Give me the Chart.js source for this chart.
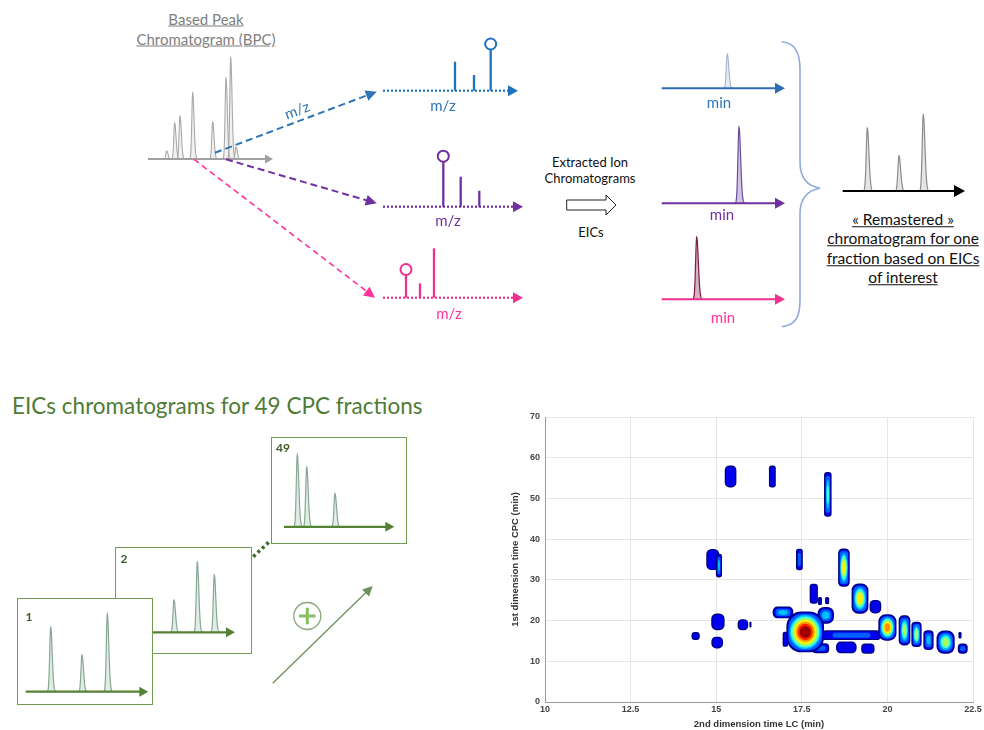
<!DOCTYPE html>
<html><head><meta charset="utf-8">
<script src="https://cdn.jsdelivr.net/npm/chart.js@4.4.1/dist/chart.umd.min.js"></script>
<style>
html,body{margin:0;padding:0;background:#fff;}
#page{position:relative;width:984px;height:730px;overflow:hidden;font-family:Lato,"Open Sans",sans-serif;background:#fff;}
.t{position:absolute;transform:translate(-50%,-50%);white-space:nowrap;line-height:1;}
.tl{position:absolute;transform:translate(0,-50%);white-space:nowrap;line-height:1;}
canvas{position:absolute;}
.box{position:absolute;border:1.3px solid #6f9b52;background:#fff;box-sizing:border-box;}
svg{position:absolute;left:0;top:0;}
</style></head><body><div id="page">

<div class="t" style="left:206px;top:19px;font-size:15px;color:#7f7f7f;text-decoration:underline;">Based Peak</div>
<div class="t" style="left:206px;top:39px;font-size:15px;color:#7f7f7f;text-decoration:underline;">Chromatogram (BPC)</div>

<canvas id="bpc" width="145" height="122" style="left:140px;top:45px"></canvas>
<canvas id="msBlue" width="155" height="80" style="left:375px;top:30px"></canvas>
<canvas id="msPurple" width="155" height="80" style="left:375px;top:140px"></canvas>
<canvas id="msPink" width="155" height="70" style="left:375px;top:240px"></canvas>
<canvas id="eicBlue" width="140" height="55" style="left:655px;top:45px"></canvas>
<canvas id="eicPurple" width="140" height="95" style="left:655px;top:120px"></canvas>
<canvas id="eicPink" width="140" height="80" style="left:655px;top:230px"></canvas>
<canvas id="rem" width="140" height="95" style="left:835px;top:105px"></canvas>

<div class="t" style="left:297px;top:110px;font-size:15px;color:#2e75b6;transform:translate(-50%,-50%) rotate(-20.7deg);">m/z</div>
<div class="t" style="left:443px;top:105px;font-size:15px;color:#2e75b6;">m/z</div>
<div class="t" style="left:448px;top:220px;font-size:15px;color:#7030a0;">m/z</div>
<div class="t" style="left:449px;top:313px;font-size:15px;color:#ff3399;">m/z</div>
<div class="t" style="left:719px;top:102px;font-size:15px;color:#2e75b6;">min</div>
<div class="t" style="left:722px;top:214px;font-size:15px;color:#7030a0;">min</div>
<div class="t" style="left:723px;top:317px;font-size:15px;color:#ff3399;">min</div>

<div class="t" style="left:590px;top:162px;font-size:13px;color:#111;">Extracted Ion</div>
<div class="t" style="left:590px;top:178px;font-size:13px;color:#111;">Chromatograms</div>
<div class="t" style="left:591px;top:232px;font-size:13px;color:#111;">EICs</div>

<div class="t" style="left:903px;top:220px;font-size:15.5px;color:#111;text-decoration:underline;">« Remastered »</div>
<div class="t" style="left:903px;top:239px;font-size:15.5px;color:#111;text-decoration:underline;">chromatogram for one</div>
<div class="t" style="left:903px;top:259px;font-size:15.5px;color:#111;text-decoration:underline;">fraction based on EICs</div>
<div class="t" style="left:903px;top:278px;font-size:15.5px;color:#111;text-decoration:underline;">of interest</div>

<div class="tl" style="left:12px;top:406px;font-size:22.5px;color:#4f7c34;">EICs chromatograms for 49 CPC fractions</div>

<div class="box" style="left:271px;top:437px;width:136px;height:107px;z-index:1"></div>
<canvas id="frac49" width="133" height="104" style="left:272px;top:438px;z-index:2"></canvas>
<div class="box" style="left:115px;top:547px;width:137px;height:107px;z-index:3"></div>
<canvas id="frac2" width="134" height="104" style="left:116px;top:548px;z-index:4"></canvas>
<div class="box" style="left:17px;top:598px;width:136px;height:107px;z-index:5"></div>
<canvas id="frac1" width="133" height="104" style="left:18px;top:600px;z-index:6"></canvas>
<div class="t" style="left:29px;top:617px;font-size:12px;font-weight:bold;color:#3d5c2a;z-index:7">1</div>
<div class="t" style="left:124px;top:559px;font-size:12px;font-weight:bold;color:#3d5c2a;z-index:7">2</div>
<div class="t" style="left:283px;top:448px;font-size:12px;font-weight:bold;color:#3d5c2a;z-index:7">49</div>

<canvas id="heat" width="474" height="325" style="left:510px;top:405px"></canvas>

<svg id="deco" width="984" height="730" style="z-index:10;pointer-events:none"></svg>
</div>
<script>
// ---------- data ----------
// Base peak chromatogram (time, relative intensity)
const bpcTimes = [2.67, 3.47, 4.0, 5.27, 7.27, 8.6, 9.07, 9.6];
const bpcIntensity = [8, 36, 43, 66, 37, 81, 101, 12];
// Mass spectra (m/z position, intensity)
const msBlueMz = [8.0, 9.9, 11.57];
const msBlueInt = [29, 15.7, 41.2];
const msPurpleMz = [6.83, 8.57, 10.43];
const msPurpleInt = [45, 30, 16];
const msPinkMz = [3.1, 4.5, 5.9];
const msPinkInt = [22.7, 14.4, 49.4];
// Extracted ion chromatograms
const eicBlueTime = [7.23];
const eicBlueInt = [34.3];
const eicPurpleTime = [8.4];
const eicPurpleInt = [76];
const eicPinkTime = [4.17];
const eicPinkInt = [62];
// Remastered chromatogram
const remTimes = [3.23, 6.4, 8.83];
const remInt = [62.7, 35.3, 76];
// Fractions
const frac1Times = [3.27, 6.4, 8.93];
const frac1Int = [64.4, 36.7, 77.7];
const frac2Times = [5.8, 8.13, 9.83];
const frac2Int = [32.3, 70, 57.3];
const frac49Times = [2.53, 3.47, 6.3];
const frac49Int = [72.3, 59.6, 33.3];
// 2D plot
const lcTicks = [10, 12.5, 15, 17.5, 20, 22.5];
const cpcTicks = [0, 10, 20, 30, 40, 50, 60, 70];
const blobLC     = [15.42,16.64,18.26,14.90,15.08,17.43,18.73,17.85,18.03,18.24,19.20,19.65,16.95,18.20,17.60,18.95,20.00,20.50,20.85,21.20,21.70,22.20,22.12,19.43,18.80,17.02,15.05,15.03,14.40,15.78,16.00,18.05];
const blobCPC    = [55.4, 55.4, 51.0, 35.0, 33.5, 35.0, 33.0, 26.6, 24.8, 24.9, 25.4, 23.4, 22.0, 21.3, 17.2, 16.4, 18.3, 17.6, 16.6, 15.2, 14.7, 13.1, 16.4, 13.1, 13.4, 15.4, 19.7, 14.6, 16.2, 19.0, 19.0, 13.2];
const blobWidth  = [0.34, 0.20, 0.22, 0.38, 0.18, 0.20, 0.34, 0.24, 0.12, 0.12, 0.49, 0.34, 0.60, 0.48, 1.10, 1.70, 0.53, 0.34, 0.30, 0.30, 0.53, 0.29, 0.09, 0.39, 0.60, 0.16, 0.39, 0.34, 0.24, 0.31, 0.06, 0.50];
const blobHeight = [5.4, 5.4, 11.0, 5.2, 5.8, 5.3, 9.4, 4.9, 2.0, 1.8, 7.4, 3.3, 2.9, 4.1, 10.0, 2.4, 6.5, 7.4, 6.2, 4.9, 5.7, 2.5, 1.6, 2.5, 2.9, 3.7, 4.1, 2.9, 2.0, 2.7, 1.4, 2.4];
const blobLevel  = [2, 2, 5, 2, 4, 3, 7, 2, 2, 2, 7, 2, 4, 4, 10, 3, 8, 6, 6, 4, 6, 3, 2, 2, 2, 2, 2, 2, 2, 2, 2, 3];

// ---------- mini chromatogram / spectrum plugin ----------
const peakPlugin = {
  id: 'peaks',
  afterDatasetsDraw(chart) {
    const s = chart.options.plugins.peaks;
    const ctx = chart.ctx, xs = chart.scales.x, ys = chart.scales.y;
    const y0 = ys.getPixelForValue(0);
    const pts = chart.data.datasets[0].data;
    ctx.save();
    pts.forEach((p, i) => {
      const px = xs.getPixelForValue(p.x), top = ys.getPixelForValue(p.y);
      if (s.kind === 'stick') {
        ctx.strokeStyle = s.color; ctx.lineWidth = 2.3;
        ctx.beginPath(); ctx.moveTo(px, y0); ctx.lineTo(px, top); ctx.stroke();
        if (s.circle === i) {
          ctx.lineWidth = 2;
          ctx.beginPath(); ctx.arc(px, top - s.r, s.r, 0, 2 * Math.PI); ctx.stroke();
        }
      } else {
        const hgt = y0 - top, sig = s.sigma || 1.2;
        ctx.beginPath();
        const n = 60;
        for (let k = 0; k <= n; k++) {
          const d = -4 * sig + (k / n) * 10 * sig;
          const sg = d < 0 ? sig : sig * 1.5;
          const yy = y0 - hgt * Math.exp(-0.5 * (d / sg) * (d / sg));
          if (k === 0) ctx.moveTo(px + d, yy); else ctx.lineTo(px + d, yy);
        }
        if (s.fill) { ctx.fillStyle = s.fill; ctx.fill(); }
        ctx.strokeStyle = s.color; ctx.lineWidth = s.lw || 1.2; ctx.stroke();
      }
    });
    const xa = xs.getPixelForValue(s.axisFrom), xb = xs.getPixelForValue(s.axisTo);
    ctx.strokeStyle = s.axisColor; ctx.lineWidth = s.axisWidth;
    ctx.setLineDash(s.dash || []);
    ctx.beginPath(); ctx.moveTo(xa, y0); ctx.lineTo(xb - s.head * 0.7, y0); ctx.stroke();
    ctx.setLineDash([]);
    ctx.fillStyle = s.axisColor;
    ctx.beginPath(); ctx.moveTo(xb, y0); ctx.lineTo(xb - s.head, y0 - s.head * 0.55); ctx.lineTo(xb - s.head, y0 + s.head * 0.55); ctx.closePath(); ctx.fill();
    ctx.restore();
  }
};

function mini(id, xs, ys, range, style) {
  return new Chart(document.getElementById(id), {
    type: 'scatter',
    data: { datasets: [{ data: xs.map((v, i) => ({ x: v, y: ys[i] })), pointRadius: 0, showLine: false }] },
    options: {
      responsive: false, animation: false, events: [],
      layout: { padding: 0 },
      plugins: { legend: { display: false }, tooltip: { enabled: false }, peaks: style },
      scales: {
        x: { type: 'linear', display: false, min: range[0], max: range[1] },
        y: { type: 'linear', display: false, min: range[2], max: range[3] }
      }
    },
    plugins: [peakPlugin]
  });
}

mini('bpc', bpcTimes, bpcIntensity, [0, 14.5, -8, 114], { kind: 'peak', color: '#a9a9a9', fill: 'rgba(210,210,210,0.3)', sigma: 0.9, lw: 1.1, axisFrom: 0.8, axisTo: 13.3, axisColor: '#a0a0a0', axisWidth: 2, head: 8 });
mini('msBlue', msBlueMz, msBlueInt, [0, 15.5, -19.3, 60.7], { kind: 'stick', color: '#1f72bd', circle: 2, r: 5.5, axisFrom: 0.8, axisTo: 14.3, axisColor: '#1f72bd', axisWidth: 2.2, dash: [2, 2], head: 10 });
mini('msPurple', msPurpleMz, msPurpleInt, [0, 15.5, -13.3, 66.7], { kind: 'stick', color: '#7030a0', circle: 0, r: 5.5, axisFrom: 0.8, axisTo: 14.8, axisColor: '#7030a0', axisWidth: 2.2, dash: [2, 2], head: 10 });
mini('msPink', msPinkMz, msPinkInt, [0, 15.5, -12.3, 57.7], { kind: 'stick', color: '#f0308f', circle: 0, r: 5.5, axisFrom: 0.8, axisTo: 14.8, axisColor: '#f0308f', axisWidth: 2.2, dash: [2, 2], head: 10 });
mini('eicBlue', eicBlueTime, eicBlueInt, [0, 14, -11.7, 43.3], { kind: 'peak', color: '#a8b6cc', fill: 'rgba(200,210,225,0.4)', sigma: 1.0, axisFrom: 0.67, axisTo: 13.0, axisColor: '#2e6db4', axisWidth: 2, head: 10 });
mini('eicPurple', eicPurpleTime, eicPurpleInt, [0, 14, -11.7, 83.3], { kind: 'peak', color: '#6a4f9c', fill: 'rgba(160,140,200,0.5)', sigma: 1.1, axisFrom: 0.67, axisTo: 13.0, axisColor: '#7030a0', axisWidth: 2, head: 10 });
mini('eicPink', eicPinkTime, eicPinkInt, [0, 14, -10.7, 69.3], { kind: 'peak', color: '#7d1d48', fill: 'rgba(150,60,100,0.4)', sigma: 1.1, axisFrom: 0.67, axisTo: 13.0, axisColor: '#f0308f', axisWidth: 2, head: 10 });
mini('rem', remTimes, remInt, [0, 14, -9, 86], { kind: 'peak', color: '#8c8c8c', fill: 'rgba(190,190,190,0.4)', sigma: 1.1, axisFrom: 0.77, axisTo: 13.0, axisColor: '#000', axisWidth: 2.2, head: 11 });
const fracStyle = (from, to) => ({ kind: 'peak', color: '#86a894', fill: 'rgba(170,200,180,0.35)', sigma: 1.0, axisFrom: from, axisTo: to, axisColor: '#548235', axisWidth: 2.2, head: 9 });
mini('frac1', frac1Times, frac1Int, [0, 13.3, -12.3, 91.7], fracStyle(0.77, 13.03));
mini('frac2', frac2Times, frac2Int, [0, 13.4, -19.7, 84.3], fracStyle(3.0, 11.9));
mini('frac49', frac49Times, frac49Int, [0, 13.3, -15.2, 88.8], fracStyle(1.2, 12.23));

// ---------- 2D contour plot ----------
const jet = ['#00007a', '#0000ee', '#0060ff', '#00c0ff', '#40ffe0', '#a8ff5a', '#fff000', '#ff9000', '#ff2000', '#a00000'];
const blobPlugin = {
  id: 'blobs',
  beforeDatasetsDraw(chart) {
    const data = chart.data.datasets[0].data;
    const xs = chart.scales.x, ys = chart.scales.y, ctx = chart.ctx, a = chart.chartArea;
    ctx.save();
    ctx.beginPath(); ctx.rect(a.left, a.top, a.right - a.left, a.bottom - a.top); ctx.clip();
    const order = data.map((d, i) => i).sort((i, j) => data[i].level - data[j].level);
    order.forEach(i => {
      const d = data[i];
      const cx = xs.getPixelForValue(d.x), cy = ys.getPixelForValue(d.y);
      const W = Math.abs(xs.getPixelForValue(d.x + d.w / 2) - xs.getPixelForValue(d.x - d.w / 2));
      const H = Math.abs(ys.getPixelForValue(d.y + d.h / 2) - ys.getPixelForValue(d.y - d.h / 2));
      const n = d.level;
      for (let k = 0; k < n; k++) {
        let w, h;
        if (k === 0) { w = W; h = H; }
        else {
          const f = k < 2 ? 1 : 1 - Math.pow((k - 1) / Math.max(1, n - 1), 1.3) * 0.8;
          w = (W - 2.4) * f;
          h = (H - 2.4) * f;
        }
        if (w <= 0.5 || h <= 0.5) break;
        ctx.fillStyle = jet[k];
        ctx.beginPath();
        if (k >= 3) ctx.ellipse(cx, cy, w / 2, h / 2, 0, 0, 2 * Math.PI);
        else ctx.roundRect(cx - w / 2, cy - h / 2, w, h, Math.min(w, h) * 0.4);
        ctx.fill();
      }
    });
    ctx.restore();
  }
};
const tickFont = { family: '"Liberation Sans", Arial, sans-serif', size: 9, weight: 'bold' };
const titleFont = { family: '"Liberation Sans", Arial, sans-serif', size: 9.5, weight: 'bold' };
new Chart(document.getElementById('heat'), {
  type: 'scatter',
  data: { datasets: [{ data: blobLC.map((v, i) => ({ x: v, y: blobCPC[i], w: blobWidth[i], h: blobHeight[i], level: blobLevel[i] })), pointRadius: 0 }] },
  options: {
    responsive: false, animation: false, events: [],
    layout: { padding: { top: 12, right: 11, left: 0, bottom: 0 } },
    plugins: { legend: { display: false }, tooltip: { enabled: false } },
    scales: {
      x: {
        type: 'linear', min: 10, max: 22.5,
        afterBuildTicks: s => { s.ticks = lcTicks.map(v => ({ value: v })); },
        afterFit: s => { s.height = 28; },
        grid: { color: '#e6e6e6', drawTicks: false },
        border: { color: '#9a9a9a' },
        ticks: { font: tickFont, color: '#454545', padding: 2, maxRotation: 0 },
        title: { display: true, text: '2nd dimension time LC (min)', font: titleFont, color: '#333', padding: 0 }
      },
      y: {
        type: 'linear', min: 0, max: 70,
        afterBuildTicks: s => { s.ticks = cpcTicks.map(v => ({ value: v })); },
        afterFit: s => { s.width = 35; },
        grid: { color: '#e6e6e6', drawTicks: false },
        border: { color: '#9a9a9a' },
        ticks: { font: tickFont, color: '#454545', padding: 5 },
        title: { display: true, text: '1st dimension time CPC (min)', font: titleFont, color: '#333', padding: 0 }
      }
    }
  },
  plugins: [blobPlugin]
});

// ---------- decorative arrows / brace ----------
const NS = 'http://www.w3.org/2000/svg';
const svg = document.getElementById('deco');
function el(tag, attrs) { const e = document.createElementNS(NS, tag); for (const k in attrs) e.setAttribute(k, attrs[k]); svg.appendChild(e); return e; }
function arrow(x1, y1, x2, y2, color, width, dash, head) {
  const ang = Math.atan2(y2 - y1, x2 - x1), c = Math.cos(ang), s = Math.sin(ang);
  const bx = x2 - head * c, by = y2 - head * s;
  el('line', { x1, y1, x2: bx + c * 2, y2: by + s * 2, stroke: color, 'stroke-width': width, 'stroke-dasharray': dash || 'none' });
  const hw = head * 0.5;
  el('polygon', { points: `${x2},${y2} ${bx - s * hw},${by + c * hw} ${bx + s * hw},${by - c * hw}`, fill: color });
}
arrow(215, 152.7, 376.7, 91.7, '#2e75b6', 2, '7 4', 11);
arrow(226, 159.3, 376.7, 203.3, '#7030a0', 2, '7 4', 11);
arrow(194, 159.3, 375, 297.7, '#ff3399', 1.6, '6 4', 11);
el('polygon', { points: '566.7,200 606,200 606,195 616,205 606,215 606,210 566.7,210', fill: '#fff', stroke: '#222', 'stroke-width': 1 });
el('path', { d: 'M781.7,41.7 C795,43 800,52 800,70 L800,162 C800,178 807,186 820,188.3 C807,190.6 800,198 800,214 L800,300 C800,318 795,325 781.7,326.7', fill: 'none', stroke: '#8faadc', 'stroke-width': 1.6 });
el('line', { x1: 253.3, y1: 556.7, x2: 269.3, y2: 541.7, stroke: '#3f6b2a', 'stroke-width': 3.5, 'stroke-dasharray': '3 3' });
arrow(272.7, 683.3, 372.7, 586, '#6f8f5a', 1.3, null, 10);
el('circle', { cx: 307.3, cy: 616, r: 13.5, fill: 'none', stroke: '#8aa57a', 'stroke-width': 1.3 });
el('line', { x1: 299, y1: 616, x2: 315.6, y2: 616, stroke: '#86bf62', 'stroke-width': 3 });
el('line', { x1: 307.3, y1: 607.7, x2: 307.3, y2: 624.3, stroke: '#86bf62', 'stroke-width': 3 });
</script>
</body></html>
